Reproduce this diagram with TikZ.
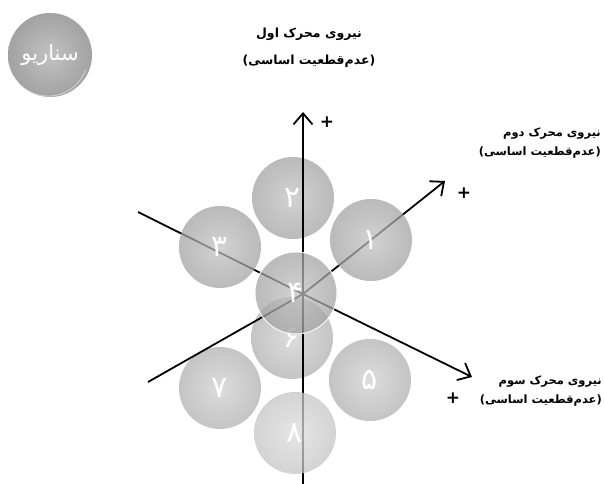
\documentclass[tikz,border=0pt]{standalone}
\usepackage{fontspec}
\usetikzlibrary{arrows.meta}
\TeXXeTstate=1
\newfontfamily\arabicfont[Script=Arabic]{DejaVu Sans}
\definecolor{dkin}{HTML}{C2C2C2}
\definecolor{dkout}{HTML}{A2A2A2}
\definecolor{ltin}{HTML}{DCDCDC}
\definecolor{ltout}{HTML}{C4C4C4}
\tikzset{
  ball/.style={circle, minimum size=82pt, inner sep=0pt, text=white,
    font=\arabicfont\fontsize{30}{34}\selectfont},
  darkball/.style={ball, inner color=dkin, outer color=dkout},
  lightball/.style={ball, inner color=ltin, outer color=ltout},
  seethru/.style={fill opacity=0.74, text opacity=1},
  rim/.style={white, line width=1pt, opacity=0.45},
  axis/.style={line width=1.8pt, black},
  axisarrow/.style={axis, -{Straight Barb[length=11pt,width=19pt,line width=1.8pt]}},
  plussign/.style={font=\arabicfont\bfseries\fontsize{17}{17}\selectfont, inner sep=0pt},
  axlabel/.style={align=center, font=\arabicfont\bfseries\fontsize{11.5}{19}\selectfont, inner sep=0pt}
}
\begin{document}
\begin{tikzpicture}[x=1pt,y=-1pt]
\useasboundingbox (0,0) rectangle (605,484);

% scenario ball
\node[darkball, minimum size=84pt, font=\arabicfont\fontsize{21}{24}\selectfont] (scen) at (50,55) {\beginR سناریو\endR};
\draw[rim] (scen.-150) arc[start angle=-150, end angle=-20, radius=40pt];

% balls under the axes
\node[lightball] (b6) at (292,338) {۶};
\node[darkball, seethru] (b2) at (293,198) {۲};
\node[lightball] (b7) at (220,388) {۷};

% axes
\coordinate (O) at (303,294);
\coordinate (vT) at (303,112);
\coordinate (vB) at (303,484);
\coordinate (a2s) at (148,382);
\coordinate (a2e) at (445,181);
\coordinate (a3s) at (138,212);
\coordinate (a3e) at (472,377);
\draw[axis] (vB) -- (O);
\draw[axisarrow] (O) -- (vT);
\draw[axis] (a2s) -- (O);
\draw[axisarrow] (O) -- (a2e);
\draw[axis] (a3s) -- (O);
\draw[axisarrow] (O) -- (a3e);

% balls over the axes
\node[darkball, seethru] (b1) at (371,240) {۱};
\node[darkball, seethru] (b3) at (220,247) {۳};
\node[lightball, seethru] (b8) at (295,433) {۸};
\node[lightball] (b5) at (370,380) {۵};
\node[darkball, seethru, draw=white, line width=1pt, draw opacity=0.9] (b4) at (296,293) {۴};

% plus signs
\node[plussign] (p1) at (327,122) {+};
\node[plussign] (p2) at (464,193) {+};
\node[plussign] (p3) at (453,398) {+};

% axis labels
\node[axlabel, font=\arabicfont\bfseries\fontsize{12.5}{27}\selectfont] (l1) at (309,48) {\beginR نیروی محرک اول\endR\\\beginR (عدم‌قطعیت اساسی)\endR};
\node[axlabel, align=right, anchor=east] (l2) at (601,143) {\beginR نیروی محرک دوم\endR\\\beginR (عدم‌قطعیت اساسی)\endR};
\node[axlabel, align=right, anchor=east] (l3) at (602,391) {\beginR نیروی محرک سوم\endR\\\beginR (عدم‌قطعیت اساسی)\endR};
\end{tikzpicture}
\end{document}
